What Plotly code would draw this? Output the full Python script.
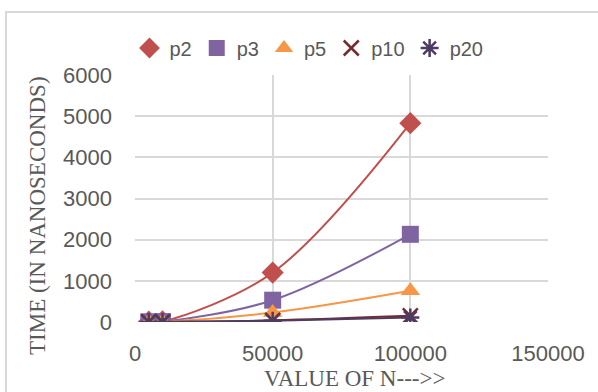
import plotly.graph_objects as go

n_values = [5000, 10000, 50000, 100000]
series_names = ["p2", "p3", "p5", "p10", "p20"]
p2 = [8, 15, 1200, 4830]
p3 = [5, 10, 530, 2130]
p5 = [3, 6, 230, 760]
p10 = [2, 4, 40, 150]
p20 = [2, 3, 30, 110]
series_values = [p2, p3, p5, p10, p20]

colors = ["#C0504D", "#8064A2", "#F79646", "#772C2A", "#4D3B62"]
symbols = ["diamond", "square", "triangle-up", "x-thin-open", "asterisk-open"]
sizes = [17, 17, 17, 15, 15]

W, H = 598, 392
L, R, T, B = 135, 50, 75, 70
pw, ph = W - L - R, H - T - B

def px_x(x):
    return (x - L) / pw

def px_y(y):
    return (H - B - y) / ph

fig = go.Figure()
for name, vals, c, s, sz in zip(series_names, series_values, colors, symbols, sizes):
    mk = dict(symbol=s, size=sz, color=c)
    if s.endswith("open"):
        mk["line"] = dict(color=c, width=2.5)
    fig.add_trace(go.Scatter(
        x=n_values, y=vals, name=name, mode="lines", legendgroup=name, showlegend=False,
        line=dict(color=c, width=2, shape="spline", smoothing=1.0), hoverinfo="skip",
    ))
    fig.add_trace(go.Scatter(
        x=n_values, y=vals, name=name, mode="markers", legendgroup=name,
        marker=mk,
    ))

tickfont = dict(family="Liberation Sans, Arial, sans-serif", size=22, color="#595959")
titlefont = dict(family="Liberation Serif, Times New Roman, serif", size=23, color="#595959")
fig.update_layout(
    width=W, height=H,
    margin=dict(l=L, r=R, t=T, b=B, autoexpand=False),
    paper_bgcolor="white", plot_bgcolor="white",
    showlegend=True,
    legend=dict(orientation="h", x=px_x(309), y=px_y(48), xanchor="center", yanchor="middle",
                font=dict(family="Liberation Sans, Arial, sans-serif", size=20, color="#595959"),
                itemwidth=30, tracegroupgap=0, bgcolor="rgba(0,0,0,0)"),
    xaxis=dict(range=[0, 150000], dtick=50000, tick0=0, tickformat="d", showgrid=True,
               gridcolor="#d9d9d9", gridwidth=1.5, zeroline=False, showline=False,
               tickfont=tickfont, ticks="", ticklabelstandoff=16),
    yaxis=dict(range=[0, 6000], dtick=1000, tick0=0, tickformat="d", showgrid=True,
               gridcolor="#d9d9d9", gridwidth=1.5, zeroline=False, showline=False,
               tickfont=tickfont, ticks="", ticklabelstandoff=22),
    shapes=[dict(type="rect", xref="paper", yref="paper",
                 x0=px_x(6), x1=px_x(610), y0=px_y(12), y1=px_y(410),
                 line=dict(color="#d9d9d9", width=2), fillcolor="rgba(0,0,0,0)", layer="above")],
    annotations=[
        dict(text="VALUE OF N--->>", xref="paper", yref="paper", x=px_x(354), y=px_y(378),
             xanchor="center", yanchor="middle", showarrow=False, font=titlefont),
        dict(text="TIME (IN NANOSECONDS)", xref="paper", yref="paper", x=px_x(37), y=px_y(216),
             xanchor="center", yanchor="middle", showarrow=False, textangle=-90, font=titlefont),
    ],
)

fig.write_html("out.html", config={"displayModeBar": False},
               post_script="document.body.style.margin='0';document.body.style.overflow='hidden';")
